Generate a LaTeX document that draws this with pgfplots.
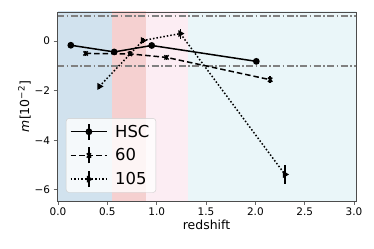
\documentclass[border=0pt]{standalone}
\usepackage{pgfplots}
\pgfplotsset{compat=1.18}
\usepackage{fontspec}
\setmainfont{DejaVu Sans}
\definecolor{rA}{HTML}{D1E2EE}
\definecolor{rB}{HTML}{F5D0D0}
\definecolor{rC}{HTML}{FCEDF3}
\definecolor{rD}{HTML}{EAF6F9}
\begin{document}
\begin{tikzpicture}[x=1bp,y=1bp]
\useasboundingbox (0,0) rectangle (374,249);
\begin{axis}[
  at={(57bp,48bp)}, anchor=south west,
  scale only axis, width=299bp, height=189bp,
  xmin=-0.01, xmax=3.02, ymin=-6.45, ymax=1.17,
  xtick={0,0.5,1,1.5,2,2.5,3},
  xticklabels={0.0,0.5,1.0,1.5,2.0,2.5,3.0},
  ytick={-6,-4,-2,0},
  yticklabels={−6,−4,−2,0},
  tick label style={font=\fontsize{10.5}{12}\selectfont},
  tick align=outside, tick pos=left,
  major tick length=3.5bp,
  every tick/.style={black!60, line width=0.8bp},
  axis line style={black!70, line width=0.8bp},
  xlabel={redshift}, ylabel={\itshape m\upshape[10\textsuperscript{−2}]},
  label style={font=\fontsize{12.5}{14}\selectfont},
  xlabel style={yshift=3bp},
  ylabel style={yshift=-3bp},
  axis on top,
  legend style={at={(0.03,0.044)}, anchor=south west, font=\fontsize{16.5}{18}\selectfont,
    fill=white, fill opacity=0.8, text opacity=1, draw=black!20, rounded corners=3bp,
    row sep=5bp, inner sep=4bp, nodes={inner sep=2.5bp},
    /tikz/every odd column/.append style={column sep=5bp}},
  legend cell align=left,
  legend image code/.code={
    \draw[#1] (0bp,0bp) -- (36bp,0bp);
    \draw[solid, line width=1.5bp] (18bp,-8bp) -- (18bp,8bp);
    \draw[#1, mark repeat=2, mark phase=2] plot coordinates {(0bp,0bp) (18bp,0bp) (36bp,0bp)};
  },
]
\fill[rA] (axis cs:0,-10) rectangle (axis cs:0.55,10);
\fill[rB] (axis cs:0.55,-10) rectangle (axis cs:0.895,10);
\fill[rC] (axis cs:0.895,-10) rectangle (axis cs:1.32,10);
\fill[rD] (axis cs:1.32,-10) rectangle (axis cs:3.1,10);
\addplot[gray, line width=1.5bp, dash pattern=on 7bp off 2.5bp on 1.5bp off 2.5bp, forget plot] coordinates {(-0.01,1) (3.1,1)};
\addplot[gray, line width=1.5bp, dash pattern=on 7bp off 2.5bp on 1.5bp off 2.5bp, forget plot] coordinates {(-0.01,-1) (3.1,-1)};

\addplot[black, line width=1.5bp, mark=*, mark size=2.6bp,
  error bars/.cd, y dir=both, y explicit, error bar style={solid, line width=1.5bp}, error mark=none]
  coordinates {(0.13,-0.17) +- (0,0.07) (0.57,-0.44) +- (0,0.07) (0.95,-0.18) +- (0,0.07) (2.01,-0.82) +- (0,0.08)};
\addlegendentry{HSC}
\addplot[black, line width=1.5bp, dash pattern=on 5.5bp off 3bp, mark=x, mark size=3bp, mark options={solid},
  error bars/.cd, y dir=both, y explicit, error bar style={solid, line width=1.5bp}, error mark=none]
  coordinates {(0.28,-0.5) +- (0,0.1) (0.73,-0.52) +- (0,0.1) (1.1,-0.66) +- (0,0.1) (2.15,-1.56) +- (0,0.15)};
\addlegendentry{60}
\addplot[black, line width=1.5bp, dash pattern=on 1.5bp off 2bp, mark=triangle*, mark size=2.6bp, mark options={solid, rotate=-90},
  error bars/.cd, y dir=both, y explicit, error bar style={solid, line width=1.5bp}, error mark=none]
  coordinates {(0.42,-1.83) +- (0,0.1) (0.86,0.02) +- (0,0.1) (1.24,0.3) +- (0,0.2) (2.3,-5.38) +- (0,0.4)};
\addlegendentry{105}
\end{axis}
\end{tikzpicture}
\end{document}
